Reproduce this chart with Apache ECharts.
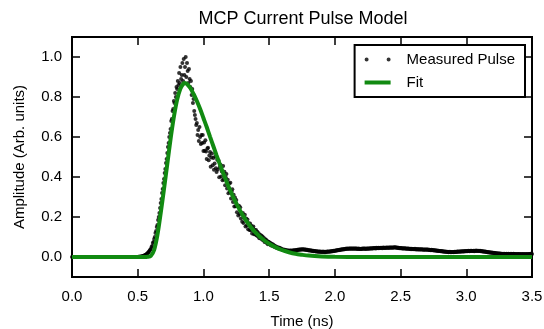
<!DOCTYPE html>
<html>
<head>
<meta charset="utf-8">
<title>MCP Current Pulse Model</title>
<script src="https://cdn.jsdelivr.net/npm/echarts@6.0.0/dist/echarts.min.js"></script>
<style>
  html, body { margin: 0; padding: 0; background: #fff; }
  #container { width: 544px; height: 329px; }
</style>
</head>
<body>
<div id="container"></div>
<script>
// sampling step of the scope trace (ns), trace starts at t = 0
var sampleStep = 0.005;

// measured pulse amplitude, one value per sample, 10 samples per row (0.05 ns)
var measuredAmp = [
  0,0,0,0,0,0,0,0,0,0,
  0,0,0,0,0,0,0,0,0,0,
  0,0,0,0,0,0,0,0,0,0,
  0,0,0,0,0,0,0,0,0,0,
  0,0,0,0,0,0,0,0,0,0,
  0,0,0,0,0,0,0,0,0,0,
  0,0,0,0,0,0,0,0,0,0,
  0,0,0,0,0,0,0,0,0,0,
  0,0,0,0,0,0,0,0,0,0,
  0,0,0,0,0,0,0,0,0,0,
  0,0.001,0,0.002,0.001,0.003,0.002,0.004,0.005,0.006,
  0.008,0.009,0.011,0.013,0.016,0.019,0.022,0.026,0.031,0.036,
  0.04,0.05,0.055,0.07,0.075,0.09,0.10,0.12,0.13,0.15,
  0.16,0.185,0.20,0.22,0.245,0.27,0.29,0.32,0.34,0.37,
  0.39,0.42,0.44,0.47,0.49,0.52,0.55,0.57,0.60,0.62,
  0.64,0.68,0.69,0.73,0.74,0.78,0.77,0.82,0.80,0.85,
  0.84,0.88,0.86,0.92,0.87,0.95,0.89,0.91,0.97,0.88,
  0.99,0.91,0.95,1.00,0.90,0.97,0.93,0.87,0.94,0.89,
  0.85,0.88,0.81,0.84,0.77,0.79,0.73,0.71,0.69,0.66,
  0.67,0.61,0.635,0.58,0.65,0.60,0.565,0.61,0.57,0.61,
  0.53,0.573,0.531,0.584,0.527,0.49,0.543,0.546,0.484,0.507,
  0.525,0.451,0.497,0.518,0.459,0.495,0.436,0.467,0.503,0.444,
  0.425,0.486,0.437,0.483,0.399,0.45,0.461,0.402,0.428,0.384,
  0.455,0.388,0.426,0.359,0.397,0.415,0.343,0.386,0.319,0.367,
  0.325,0.371,0.292,0.328,0.339,0.275,0.311,0.252,0.298,0.254,
  0.285,0.224,0.258,0.207,0.256,0.215,0.249,0.193,0.217,0.176,
  0.22,0.17,0.196,0.211,0.152,0.192,0.158,0.188,0.139,0.169,
  0.135,0.167,0.134,0.156,0.118,0.145,0.152,0.114,0.136,0.113,
  0.135,0.107,0.126,0.104,0.119,0.094,0.111,0.095,0.108,0.087,
  0.102,0.084,0.095,0.075,0.088,0.088,0.071,0.08,0.064,0.076,
  0.074,0.062,0.07,0.058,0.066,0.056,0.062,0.053,0.058,0.05,
  0.054,0.046,0.05,0.044,0.048,0.042,0.046,0.041,0.043,0.039,
  0.038,0.036,0.037,0.034,0.036,0.033,0.034,0.032,0.033,0.031,
  0.032,0.030,0.033,0.031,0.032,0.030,0.033,0.032,0.034,0.032,
  0.033,0.035,0.034,0.036,0.035,0.037,0.036,0.038,0.037,0.038,
  0.037,0.039,0.038,0.037,0.038,0.036,0.037,0.035,0.036,0.034,
  0.034,0.033,0.034,0.032,0.031,0.032,0.030,0.031,0.029,0.030,
  0.029,0.028,0.029,0.027,0.028,0.026,0.027,0.026,0.027,0.025,
  0.026,0.025,0.027,0.025,0.026,0.024,0.026,0.025,0.027,0.026,
  0.027,0.026,0.028,0.027,0.029,0.028,0.030,0.029,0.031,0.030,
  0.031,0.032,0.033,0.032,0.034,0.035,0.034,0.036,0.035,0.037,
  0.037,0.038,0.039,0.038,0.040,0.039,0.041,0.040,0.042,0.041,
  0.041,0.042,0.041,0.043,0.042,0.041,0.043,0.042,0.041,0.042,
  0.042,0.041,0.043,0.042,0.040,0.041,0.042,0.040,0.041,0.040,
  0.041,0.040,0.042,0.041,0.043,0.041,0.042,0.040,0.042,0.041,
  0.042,0.043,0.041,0.043,0.044,0.042,0.043,0.044,0.043,0.045,
  0.044,0.045,0.043,0.046,0.044,0.045,0.046,0.044,0.045,0.046,
  0.045,0.046,0.044,0.046,0.047,0.045,0.046,0.045,0.047,0.046,
  0.046,0.047,0.045,0.047,0.048,0.046,0.047,0.048,0.046,0.048,
  0.047,0.049,0.047,0.048,0.046,0.047,0.045,0.046,0.044,0.045,
  0.044,0.045,0.043,0.044,0.042,0.043,0.044,0.042,0.043,0.041,
  0.042,0.041,0.043,0.041,0.040,0.041,0.039,0.041,0.040,0.039,
  0.040,0.039,0.041,0.039,0.038,0.040,0.038,0.039,0.037,0.039,
  0.038,0.037,0.039,0.037,0.038,0.036,0.038,0.037,0.036,0.038,
  0.037,0.036,0.037,0.035,0.036,0.035,0.034,0.036,0.034,0.035,
  0.034,0.033,0.034,0.032,0.033,0.031,0.032,0.030,0.031,0.030,
  0.030,0.029,0.030,0.028,0.029,0.027,0.028,0.026,0.027,0.026,
  0.026,0.025,0.026,0.024,0.025,0.026,0.024,0.025,0.024,0.025,
  0.025,0.024,0.026,0.025,0.026,0.025,0.027,0.026,0.027,0.026,
  0.027,0.028,0.027,0.028,0.029,0.028,0.029,0.028,0.030,0.029,
  0.029,0.030,0.029,0.031,0.030,0.029,0.031,0.030,0.031,0.030,
  0.030,0.031,0.029,0.031,0.030,0.032,0.030,0.031,0.030,0.031,
  0.030,0.031,0.029,0.030,0.028,0.029,0.027,0.028,0.026,0.027,
  0.026,0.025,0.024,0.025,0.023,0.024,0.022,0.023,0.021,0.022,
  0.021,0.020,0.021,0.019,0.020,0.018,0.019,0.017,0.018,0.017,
  0.017,0.016,0.017,0.015,0.016,0.015,0.016,0.014,0.016,0.015,
  0.015,0.016,0.014,0.015,0.016,0.014,0.015,0.014,0.016,0.015,
  0.015,0.014,0.016,0.015,0.014,0.015,0.013,0.015,0.014,0.015,
  0.014,0.015,0.013,0.014,0.015,0.013,0.014,0.015,0.014,0.013,
  0.014,0.015,0.014,0.013,0.015,0.014,0.015,0.014,0.016,0.015,
  0.015
];

// fitted pulse model
var fitTime = [0, 0.55, 0.575, 0.60, 0.625, 0.65, 0.675, 0.70, 0.725, 0.75, 0.775, 0.80, 0.825,
  0.85, 0.86, 0.875, 0.90, 0.925, 0.95, 0.975, 1.00, 1.025, 1.05, 1.075, 1.10, 1.125, 1.15,
  1.175, 1.20, 1.225, 1.25, 1.275, 1.30, 1.325, 1.35, 1.375, 1.40, 1.45, 1.50, 1.55, 1.60,
  1.65, 1.70, 1.75, 1.80, 1.90, 2.00, 2.20, 3.50];
var fitAmp = [0, 0, 0.001, 0.006, 0.035, 0.11, 0.22, 0.34, 0.465, 0.59, 0.70, 0.787, 0.843,
  0.868, 0.87, 0.865, 0.845, 0.815, 0.78, 0.74, 0.695, 0.65, 0.602, 0.555, 0.508, 0.463, 0.42,
  0.378, 0.339, 0.302, 0.268, 0.237, 0.208, 0.182, 0.159, 0.138, 0.12, 0.09, 0.066, 0.048, 0.034,
  0.024, 0.016, 0.011, 0.007, 0.003, 0.001, 0, 0];

// tick labels
var xTicks = [0, 0.5, 1.0, 1.5, 2.0, 2.5, 3.0, 3.5];
var yTicks = [0, 0.2, 0.4, 0.6, 0.8, 1.0];

var fontName = "'Liberation Sans', Arial, sans-serif";

var measuredData = [];
for (var i = 0; i < measuredAmp.length; i++) {
  measuredData.push([+(i * sampleStep).toFixed(3), measuredAmp[i]]);
}
var fitData = [];
for (var j = 0; j < fitTime.length; j++) {
  fitData.push([fitTime[j], fitAmp[j]]);
}

function xAxisOpt(pos, showLabel) {
  return {
    type: 'value', position: pos, min: 0, max: 3.5, interval: 0.5,
    axisLine: { show: false, onZero: false },
    axisTick: { show: true, inside: true, length: 8, lineStyle: { color: '#000', width: 1.5 } },
    splitLine: { show: false },
    axisLabel: {
      show: showLabel, margin: 12, color: '#000', fontSize: 15,
      fontFamily: fontName, showMinLabel: true, showMaxLabel: true,
      formatter: function (v) { return v.toFixed(1); }
    },
    name: showLabel ? 'Time (ns)' : '', nameLocation: 'middle', nameGap: 37,
    nameTextStyle: { color: '#000', fontSize: 15, fontFamily: fontName }
  };
}

function yAxisOpt(pos, showLabel) {
  return {
    type: 'value', position: pos, min: -0.1, max: 1.1,
    axisLine: { show: false, onZero: false },
    axisTick: { show: true, inside: true, length: 8, lineStyle: { color: '#000', width: 1.5 }, customValues: yTicks },
    splitLine: { show: false },
    axisLabel: {
      show: showLabel, customValues: yTicks, margin: 10, color: '#000', fontSize: 15,
      fontFamily: fontName,
      formatter: function (v) { return v.toFixed(1); }
    },
    name: showLabel ? 'Amplitude (Arb. units)' : '', nameLocation: 'middle', nameGap: 45, nameRotate: 90,
    nameTextStyle: { color: '#000', fontSize: 15, fontFamily: fontName }
  };
}

var option = {
  animation: false,
  backgroundColor: '#fff',
  title: {
    text: 'MCP Current Pulse Model',
    left: 298, top: 5, textAlign: 'center',
    textStyle: { color: '#000', fontSize: 18, fontWeight: 'normal', fontFamily: fontName }
  },
  grid: {
    left: 72, right: 12, top: 37, bottom: 52,
    outerBoundsMode: 'none', containLabel: false,
    show: true, borderColor: '#000', borderWidth: 2, backgroundColor: 'transparent'
  },
  legend: {
    orient: 'vertical', right: 19, top: 45,
    padding: [7, 10, 7, 10], itemGap: 8,
    itemWidth: 26, itemHeight: 4,
    borderColor: '#000', borderWidth: 2, backgroundColor: '#fff',
    textStyle: { color: '#000', fontSize: 15, fontFamily: fontName, padding: [0, 0, 0, 11] },
    data: [
      { name: 'Measured Pulse', icon: 'path://M0,2a2,2 0 1,0 4,0a2,2 0 1,0 -4,0M22,2a2,2 0 1,0 4,0a2,2 0 1,0 -4,0' },
      { name: 'Fit', icon: 'rect' }
    ]
  },
  xAxis: [xAxisOpt('bottom', true), xAxisOpt('top', false)],
  yAxis: [yAxisOpt('left', true), yAxisOpt('right', false)],
  series: [
    {
      name: 'Measured Pulse', type: 'scatter', xAxisIndex: 0, yAxisIndex: 0,
      symbol: 'circle', symbolSize: 4,
      itemStyle: { color: '#000' },
      data: measuredData, z: 2
    },
    {
      name: 'Fit', type: 'line', xAxisIndex: 0, yAxisIndex: 0,
      showSymbol: false, smooth: 0.3,
      lineStyle: { color: '#118a11', width: 4 },
      itemStyle: { color: '#118a11' },
      data: fitData, z: 3
    }
  ]
};

echarts.init(document.getElementById('container')).setOption(option);
</script>
</body>
</html>
